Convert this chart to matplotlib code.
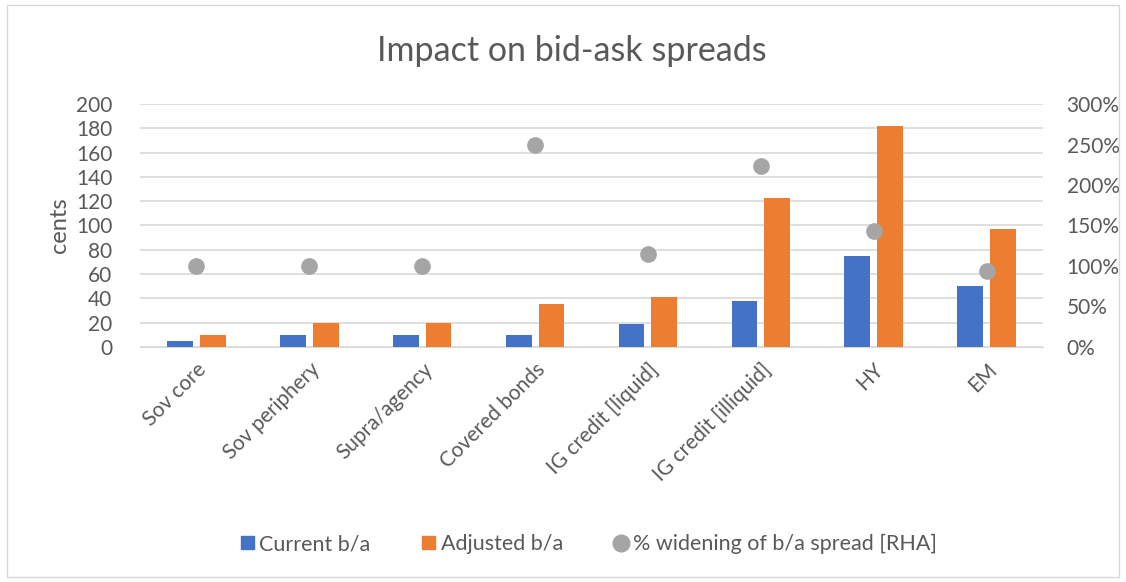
import matplotlib.pyplot as plt
from matplotlib.patches import Patch, Rectangle
from matplotlib.lines import Line2D
from matplotlib.ticker import FuncFormatter
import numpy as np

plt.rcParams['font.family'] = ['Lato', 'DejaVu Sans']

categories = ["Sov core", "Sov periphery", "Supra/agency", "Covered bonds",
              "IG credit [liquid]", "IG credit [illiquid]", "HY", "EM"]
current_ba = [5, 10, 10, 10, 19, 38, 75, 50]
adjusted_ba = [10, 20, 20, 35, 41, 123, 182, 97]
widening_pct = [100, 100, 100, 250, 115, 224, 143, 94]

blue = "#4472c4"
orange = "#ed7d31"
grey = "#a5a5a5"
text_col = "#595959"

fig = plt.figure(figsize=(11.26, 5.82), dpi=100)
ax = fig.add_axes([0.1243, 0.4038, 0.802, 0.4175])
ax2 = ax.twinx()

x = np.arange(len(categories))
w = 0.228
off = 0.145
ax.bar(x - off, current_ba, w, color=blue, zorder=3)
ax.bar(x + off, adjusted_ba, w, color=orange, zorder=3)
ax2.plot(x, widening_pct, linestyle="none", marker="o", markersize=11,
         color=grey, zorder=4)

ax.set_xlim(-0.5, len(categories) - 0.5)
ax.set_ylim(0, 200)
ax.set_yticks(range(0, 201, 20))
ax2.set_ylim(0, 300)
ax2.set_yticks(range(0, 301, 50))
ax2.yaxis.set_major_formatter(FuncFormatter(lambda v, p: f"{int(v)}%"))

ax.grid(axis="y", color="#d9d9d9", linewidth=1.2, zorder=0)
ax.set_axisbelow(True)
for a in (ax, ax2):
    for s in a.spines.values():
        s.set_visible(False)
    a.tick_params(length=0, labelsize=15, labelcolor=text_col)
ax.tick_params(axis="y", pad=20)
ax2.tick_params(axis="y", pad=17)
ax.spines["bottom"].set_visible(True)
ax.spines["bottom"].set_color("#d9d9d9")

ax.set_xticks(x)
ax.set_xticklabels(categories, rotation=45, ha="right", rotation_mode="anchor")
ax.tick_params(axis="x", pad=9)

ax.set_ylabel("cents", fontsize=17, color=text_col, labelpad=4)

fig.text(0.508, 0.913, "Impact on bid-ask spreads", ha="center", va="center",
         fontsize=24.5, color=text_col)

handles = [
    Patch(color=blue, label="Current b/a"),
    Patch(color=orange, label="Adjusted b/a"),
    Line2D([], [], linestyle="none", marker="o", markersize=12, color=grey,
           label="% widening of b/a spread [RHA]"),
]
fig.legend(handles=handles, loc="center", bbox_to_anchor=(0.523, 0.065),
           ncol=3, frameon=False, fontsize=15.5, labelcolor=text_col,
           handlelength=0.6, handleheight=0.6, handletextpad=0.25,
           columnspacing=2.4)

fig.patches.append(Rectangle((0.006, 0.008), 0.988, 0.984,
                             transform=fig.transFigure, fill=False,
                             edgecolor="#d9d9d9", linewidth=1))

fig.savefig("out.png", dpi=100)
